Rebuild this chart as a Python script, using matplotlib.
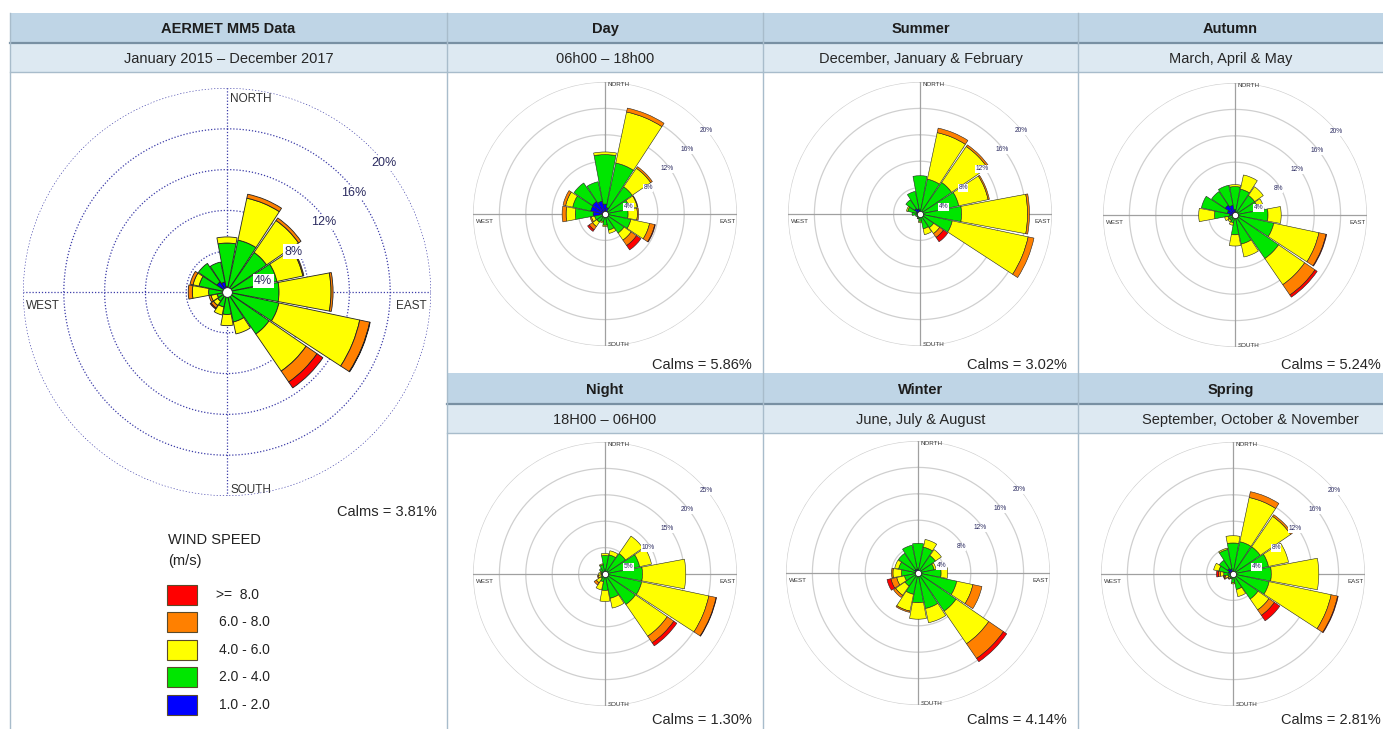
import numpy as np
import matplotlib
matplotlib.use('Agg')
import matplotlib.pyplot as plt
from matplotlib.patches import Rectangle

plt.rcParams['font.family'] = ['Liberation Sans', 'DejaVu Sans']

W, H = 1383, 729

# ---------------- data ----------------
directions = ['N', 'NNE', 'NE', 'ENE', 'E', 'ESE', 'SE', 'SSE',
              'S', 'SSW', 'SW', 'WSW', 'W', 'WNW', 'NW', 'NNW']
speed_labels = ['1.0 - 2.0', '2.0 - 4.0', '4.0 - 6.0', '6.0 - 8.0', '>=  8.0']
speed_colors = ['#0000ff', '#00e600', '#ffff00', '#ff8000', '#ff0000']

# frequency (%) per direction, rows = speed bins (1-2, 2-4, 4-6, 6-8, >=8 m/s)
annual = [
    [0.5, 0.3, 0.2, 0.15, 0.1, 0.1, 0.1, 0.1, 0.1, 0.1, 0.1, 0.1, 0.2, 0.4, 1.2, 1.0],
    [4.3, 4.9, 4.5, 4.85, 5.0, 5.1, 4.9, 2.9, 2.1, 1.4, 1.0, 0.9, 1.6, 2.4, 2.2, 2.0],
    [0.6, 4.2, 3.8, 2.6, 5.1, 8.1, 4.4, 1.2, 1.1, 0.8, 0.5, 0.6, 1.6, 0.6, 0.0, 0.0],
    [0.0, 0.4, 0.3, 0.1, 0.2, 1.0, 1.3, 0.0, 0.0, 0.0, 0.3, 0.2, 0.4, 0.3, 0.0, 0.0],
    [0.0, 0.0, 0.0, 0.0, 0.0, 0.05, 0.7, 0.0, 0.0, 0.0, 0.1, 0.0, 0.0, 0.0, 0.0, 0.0],
]
day = [
    [1.5, 1.0, 0.5, 0.3, 0.3, 0.2, 0.2, 0.2, 0.2, 0.2, 0.3, 0.4, 1.8, 2.2, 2.3, 2.0],
    [7.5, 6.9, 4.5, 3.5, 3.2, 3.8, 3.3, 2.3, 1.5, 1.0, 1.2, 1.2, 2.7, 2.8, 3.4, 3.0],
    [0.4, 7.9, 3.4, 1.2, 1.4, 2.9, 1.3, 0.5, 0.2, 0.2, 0.8, 0.5, 1.4, 1.1, 0.0, 0.0],
    [0.0, 0.6, 0.3, 0.1, 0.2, 0.8, 1.0, 0.0, 0.0, 0.0, 0.6, 0.2, 0.6, 0.4, 0.0, 0.0],
    [0.0, 0.0, 0.0, 0.0, 0.0, 0.1, 0.8, 0.0, 0.0, 0.0, 0.3, 0.0, 0.0, 0.0, 0.0, 0.0],
]
summer = [
    [0.6, 0.3, 0.2, 0.2, 0.1, 0.1, 0.1, 0.1, 0.1, 0.1, 0.1, 0.1, 0.3, 0.6, 1.0, 0.8],
    [5.2, 5.1, 5.6, 5.8, 6.2, 4.9, 2.4, 2.2, 1.0, 0.6, 0.5, 0.6, 0.9, 1.3, 1.6, 2.7],
    [0.0, 7.2, 6.6, 4.55, 10.0, 11.75, 1.1, 0.9, 0.2, 0.1, 0.0, 0.0, 0.0, 0.2, 0.0, 0.0],
    [0.0, 0.7, 0.3, 0.2, 0.3, 0.9, 0.7, 0.0, 0.0, 0.0, 0.0, 0.0, 0.0, 0.0, 0.0, 0.0],
    [0.0, 0.0, 0.0, 0.0, 0.0, 0.0, 0.8, 0.0, 0.0, 0.0, 0.0, 0.0, 0.0, 0.0, 0.0, 0.0],
]
autumn = [
    [0.8, 0.5, 0.3, 0.2, 0.2, 0.2, 0.2, 0.2, 0.2, 0.2, 0.2, 0.3, 0.8, 1.2, 1.8, 1.5],
    [3.5, 3.5, 3.3, 3.4, 4.8, 5.8, 7.8, 4.3, 2.8, 1.0, 0.8, 0.8, 2.3, 4.0, 2.5, 3.1],
    [0.3, 2.2, 1.6, 0.9, 2.0, 7.0, 4.8, 2.0, 1.7, 0.4, 0.3, 0.5, 2.4, 0.0, 0.0, 0.0],
    [0.0, 0.0, 0.0, 0.0, 0.0, 1.1, 1.9, 0.0, 0.0, 0.0, 0.0, 0.0, 0.0, 0.0, 0.0, 0.0],
    [0.0, 0.0, 0.0, 0.0, 0.0, 0.1, 0.4, 0.0, 0.0, 0.0, 0.0, 0.0, 0.0, 0.0, 0.0, 0.0],
]
night = [
    [0.3, 0.2, 0.2, 0.2, 0.1, 0.1, 0.1, 0.1, 0.1, 0.1, 0.1, 0.1, 0.1, 0.1, 0.2, 0.2],
    [3.2, 3.5, 4.5, 6.5, 7.0, 7.0, 6.9, 4.6, 3.0, 1.4, 0.9, 0.6, 0.6, 0.7, 1.1, 1.6],
    [0.4, 0.8, 4.0, 2.3, 8.2, 13.0, 7.3, 1.9, 2.1, 1.6, 1.0, 0.6, 0.5, 0.2, 0.0, 0.2],
    [0.0, 0.0, 0.0, 0.0, 0.0, 1.4, 1.5, 0.0, 0.0, 0.0, 0.5, 0.2, 0.0, 0.0, 0.0, 0.0],
    [0.0, 0.0, 0.0, 0.0, 0.0, 0.1, 0.7, 0.0, 0.0, 0.0, 0.0, 0.0, 0.0, 0.0, 0.0, 0.0],
]
winter = [
    [0.5, 0.3, 0.2, 0.2, 0.2, 0.1, 0.1, 0.1, 0.1, 0.1, 0.1, 0.1, 0.2, 0.4, 0.6, 0.6],
    [4.0, 3.7, 3.0, 2.3, 3.3, 5.9, 6.9, 5.4, 4.4, 3.2, 2.3, 2.0, 2.3, 2.6, 3.0, 3.7],
    [0.0, 1.2, 1.1, 0.3, 1.0, 2.5, 6.0, 2.2, 2.5, 2.6, 1.7, 1.2, 1.3, 0.6, 0.0, 0.0],
    [0.0, 0.0, 0.0, 0.0, 0.0, 1.4, 2.7, 0.0, 0.0, 0.2, 0.4, 0.9, 0.2, 0.0, 0.0, 0.0],
    [0.0, 0.0, 0.0, 0.0, 0.0, 0.0, 0.6, 0.0, 0.0, 0.0, 0.0, 0.6, 0.0, 0.0, 0.0, 0.0],
]
spring = [
    [0.4, 0.3, 0.2, 0.2, 0.1, 0.1, 0.1, 0.1, 0.1, 0.1, 0.1, 0.2, 0.4, 0.7, 1.0, 0.8],
    [4.3, 4.7, 4.8, 5.3, 5.7, 5.5, 4.5, 2.3, 1.2, 0.6, 0.6, 0.6, 1.0, 1.5, 1.5, 3.0],
    [1.1, 6.85, 5.6, 3.1, 7.2, 9.6, 2.0, 1.1, 0.2, 0.1, 0.2, 0.4, 0.5, 0.8, 0.0, 0.2],
    [0.0, 0.9, 0.3, 0.0, 0.0, 1.0, 1.0, 0.0, 0.0, 0.0, 0.1, 0.2, 0.3, 0.0, 0.0, 0.0],
    [0.0, 0.0, 0.0, 0.0, 0.0, 0.1, 1.0, 0.0, 0.0, 0.0, 0.0, 0.1, 0.3, 0.0, 0.0, 0.0],
]

calms = {'annual': 3.81, 'day': 5.86, 'summer': 3.02, 'autumn': 5.24,
         'night': 1.30, 'winter': 4.14, 'spring': 2.81}
rings_std = [4, 8, 12, 16, 20]
rings_night = [5, 10, 15, 20, 25]

titles = ['AERMET MM5 Data', 'Day', 'Summer', 'Autumn', 'Night', 'Winter', 'Spring']
subtitles = ['January 2015 \u2013 December 2017', '06h00 \u2013 18h00',
             'December, January & February', 'March, April & May',
             '18H00 \u2013 06H00', 'June, July & August',
             'September, October & November']

# ---------------- figure ----------------
fig = plt.figure(figsize=(W / 100, H / 100), dpi=100)
bg = fig.add_axes([0, 0, 1, 1])
bg.set_xlim(0, W)
bg.set_ylim(H, 0)
bg.set_axis_off()

HDR = '#bfd5e6'
SUB = '#dde9f2'
LINE = '#a8bccb'
DARK = '#7890a3'


def header(x0, x1, y0, y1, y2, title, sub, sub_x=None):
    bg.add_patch(Rectangle((x0, y0), x1 - x0, y1 - y0, fc=HDR, ec='none'))
    bg.add_patch(Rectangle((x0, y1), x1 - x0, y2 - y1, fc=SUB, ec='none'))
    bg.plot([x0, x1], [y1, y1], color=DARK, lw=1.6)
    bg.plot([x0, x1], [y2, y2], color=LINE, lw=1.0)
    xc = (x0 + x1) / 2
    bg.text(xc, (y0 + y1) / 2 + 1, title, ha='center', va='center',
            fontsize=10.5, fontweight='bold', color='#1c1c1c')
    bg.text(sub_x if sub_x else xc, (y1 + y2) / 2 + 1, sub, ha='center',
            va='center', fontsize=10.5, color='#262626')


header(10, 447, 13, 43, 72, titles[0], subtitles[0])
header(447, 763, 13, 43, 72, titles[1], subtitles[1])
header(763, 1078, 13, 43, 72, titles[2], subtitles[2])
header(1078, W, 13, 43, 72, titles[3], subtitles[3])
header(447, 763, 373, 404, 433, titles[4], subtitles[4])
header(763, 1078, 373, 404, 433, titles[5], subtitles[5])
header(1078, W, 373, 404, 433, titles[6], subtitles[6], sub_x=1250)

for x in [10, 447, 763, 1078]:
    bg.plot([x, x], [13, H], color=LINE, lw=1.0)

# legend
bg.text(168, 540, 'WIND SPEED', ha='left', va='center', fontsize=10.5, color='#222222')
bg.text(168, 561, '(m/s)', ha='left', va='center', fontsize=10.5, color='#222222')
leg_y = [595, 622, 650, 677, 705]
for i, (lab, col) in enumerate(zip(speed_labels[::-1], speed_colors[::-1])):
    yc = leg_y[i]
    bg.add_patch(Rectangle((167, yc - 10), 30, 20, fc=col, ec='#5a4a2a', lw=0.8))
    bg.text(216 if i == 0 else 219, yc, lab, ha='left', va='center',
            fontsize=10, color='#222222')


def rose(cx, cy, R, data, rings, main=False):
    ax = fig.add_axes([(cx - R) / W, 1 - (cy + R) / H, 2 * R / W, 2 * R / H],
                      projection='polar')
    ax.set_theta_zero_location('N')
    ax.set_theta_direction(-1)
    rmax = rings[-1]
    ax.set_ylim(0, rmax)
    ax.set_axis_off()
    t = np.linspace(0, 2 * np.pi, 361)
    if main:
        rc, rls, rlw, cc = '#3c3ca8', (0, (1, 1.5)), 0.9, '#3c3ca8'
    else:
        rc, rls, rlw, cc = '#cfcfcf', '-', 0.9, '#a0a0a0'
    for r in rings:
        ax.plot(t, np.full_like(t, r), color=rc, ls=rls, lw=rlw, zorder=1)
    for a in [0, np.pi / 2, np.pi, 3 * np.pi / 2]:
        ax.plot([a, a], [0, rmax], color=cc, ls=rls, lw=rlw, zorder=1)

    theta = np.deg2rad(np.arange(16) * 22.5)
    width = np.deg2rad(22.5) * 0.94
    vals = np.array(data, dtype=float)
    bottom = np.zeros(16)
    elw = 0.6 if main else 0.4
    for k in range(5):
        h = vals[k]
        m = h > 0
        ax.bar(theta[m], h[m], width=width, bottom=bottom[m],
               color=speed_colors[k], edgecolor='#222222', lw=elw, zorder=2)
        bottom = bottom + h
    ax.plot([0], [0], 'o', ms=7 if main else 4.5, mfc='white', mec='#222222',
            mew=0.6, zorder=3)

    fs_dir = 8.5 if main else 4.5
    fs_pct = 9 if main else 4.8
    dcol = '#333333'
    if main:
        pos = [(0.508, 0.973, 'NORTH', 'left'), (0.508, 0.015, 'SOUTH', 'left'),
               (0.008, 0.466, 'WEST', 'left'), (0.99, 0.466, 'EAST', 'right')]
    else:
        pos = [(0.511, 0.99, 'NORTH', 'left'), (0.511, 0.006, 'SOUTH', 'left'),
               (0.01, 0.473, 'WEST', 'left'), (0.995, 0.473, 'EAST', 'right')]
    for x, y, s, ha in pos:
        ax.text(x, y, s, transform=ax.transAxes, ha=ha, va='center',
                fontsize=fs_dir, color=dcol)
    for r in rings:
        f = r / rmax
        x = (0.74 * f + 0.03) * rmax
        y = (0.72 * f - 0.09) * rmax
        th = np.arctan2(x, y)
        rr = np.hypot(x, y)
        ax.text(th, rr, f'{r}%', ha='center', va='center', fontsize=fs_pct,
                color='#2b2b60', zorder=4,
                bbox=dict(boxstyle='square,pad=0.1', fc='white', ec='none'))
    return ax


rose(227, 292, 204, annual, rings_std, main=True)
rose(605, 214, 132, day, rings_std)
rose(920, 214, 132, summer, rings_std)
rose(1235, 215, 132, autumn, rings_std)
rose(605, 574, 132, night, rings_night)
rose(918, 573, 132, winter, rings_std)
rose(1233, 574, 132, spring, rings_std)

calm_pos = [(437, 512, 'annual'), (752, 365, 'day'), (1067, 365, 'summer'),
            (1381, 365, 'autumn'), (752, 720, 'night'), (1067, 720, 'winter'),
            (1381, 720, 'spring')]
for x, y, k in calm_pos:
    bg.text(x, y, f'Calms = {calms[k]:.2f}%', ha='right', va='center',
            fontsize=10.5, color='#262626')

fig.savefig('out.png', dpi=100)
